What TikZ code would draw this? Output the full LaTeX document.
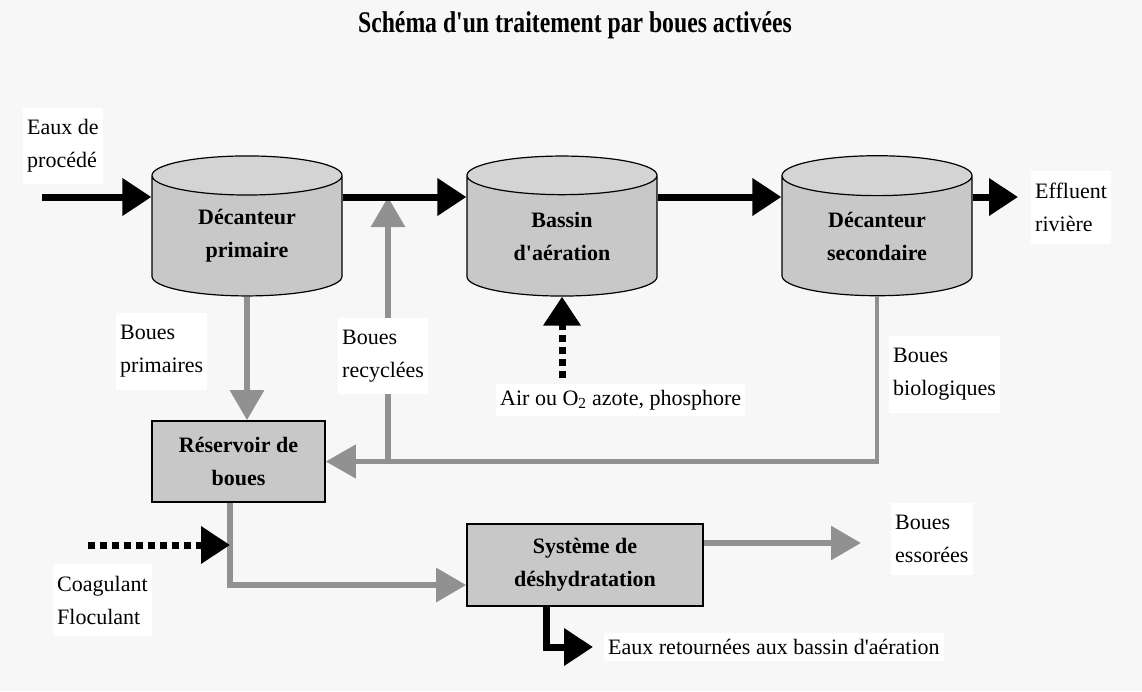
\documentclass[tikz,border=0pt]{standalone}
\usepackage{fontspec}
\setmainfont{Liberation Serif}
\newfontfamily\titlefont[FakeStretch=0.79]{Liberation Serif}
\usetikzlibrary{shapes.geometric,arrows.meta}
\definecolor{bgcol}{RGB}{247,247,247}
\definecolor{tankfill}{RGB}{200,200,200}
\definecolor{tanktop}{RGB}{212,212,212}
\definecolor{mudcol}{RGB}{145,145,145}
\begin{document}
\begin{tikzpicture}[x=1pt, y=-1pt,
    tank/.style={cylinder, shape border rotate=90, aspect=0.4, draw=black, line width=1.2pt,
      minimum width=190pt, minimum height=140pt, cylinder uses custom fill,
      cylinder body fill=tankfill, cylinder end fill=tanktop, inner sep=0pt,
      align=center, font=\fontsize{22}{33}\selectfont\bfseries},
    unit/.style={rectangle, draw=black, line width=1.6pt, fill=tankfill, inner sep=0pt,
      align=center, font=\fontsize{22}{33}\selectfont\bfseries},
    lbl/.style={anchor=west, align=left, fill=white, inner xsep=4pt, inner ysep=12pt,
      font=\fontsize{22}{33}\selectfont},
    flow/.style={draw=black, line width=7pt, -{Triangle[length=29pt, width=36pt]}},
    mud/.style={draw=mudcol, line width=6pt, -{Triangle[length=30pt, width=33pt]}},
    feed/.style={flow, dash pattern=on 7pt off 5pt}]

    \useasboundingbox (0,0) rectangle (1142,691);
    \fill[bgcol] (0,0) rectangle (1142,691);

    \node[font=\titlefont\bfseries\fontsize{30}{36}\selectfont] (title) at (575,25)
      {Schéma d'un traitement par boues activées};

    \foreach \nm/\x/\txt in {c1/247/{Décanteur\\primaire},
                             c2/562/{Bassin\\d\textquotesingle aération},
                             c3/877/{Décanteur\\secondaire}}
      {
        \node[tank] (\nm) at (\x,236) {\txt};
      }

    \node[unit, minimum width=173pt, minimum height=81pt] (res) at (238.5,461.5) {Réservoir de\\boues};
    \node[unit, minimum width=236pt, minimum height=82pt] (sys) at (585,565) {Système de\\déshydratation};

    \coordinate (in) at (42,197);
    \coordinate (out) at (1018,197);
    \coordinate (rec) at (388,462);
    \coordinate (bend) at (230,585);
    \coordinate (coag) at (88,545);
    \coordinate (mix) at (230,545);
    \coordinate (air) at (562,378);
    \coordinate (essor) at (861,543);
    \coordinate (drop) at (546,647);
    \coordinate (ret) at (593,647);

    \draw[mud] (c1.south) -- (c1.south |- res.north);
    \draw[mud, line width=4.5pt] (c3.south) |- (res.east);
    \draw[mud] (rec) -- (rec |- in);
    \draw[mud] (res.south -| bend) -- (bend) -- (bend -| sys.west);
    \draw[mud] (sys.east |- essor) -- (essor);

    \draw[flow] (in) -- (in -| c1.west);
    \draw[flow] (c1.east |- in) -- (c2.west |- in);
    \draw[flow] (c2.east |- in) -- (c3.west |- in);
    \draw[flow] (c3.east |- in) -- (out);
    \draw[flow] (sys.south -| drop) -- (drop) -- (ret);
    \draw[feed] (coag) -- (mix);
    \draw[feed] (air) -- (c2.south);

    \node[lbl] (eaux) at (23,146) {Eaux de\\procédé};
    \node[lbl] (effl) at (1031,207.5) {Effluent\\rivière};
    \node[lbl] (prim) at (116,351.5) {Boues\\primaires};
    \node[lbl] (recy) at (338,356) {Boues\\recyclées};
    \node[lbl] (bio) at (889,374.5) {Boues\\biologiques};
    \node[lbl, inner ysep=6pt] (airl) at (496,400) {Air ou O\textsubscript{2} azote, phosphore};
    \node[lbl] (coagl) at (53,600) {Coagulant\\Floculant};
    \node[lbl] (essl) at (891,539) {Boues\\essorées};
    \node[lbl, inner ysep=6pt] (retl) at (604,647) {Eaux retournées aux bassin d\textquotesingle aération};
  \end{tikzpicture}
\end{document}
